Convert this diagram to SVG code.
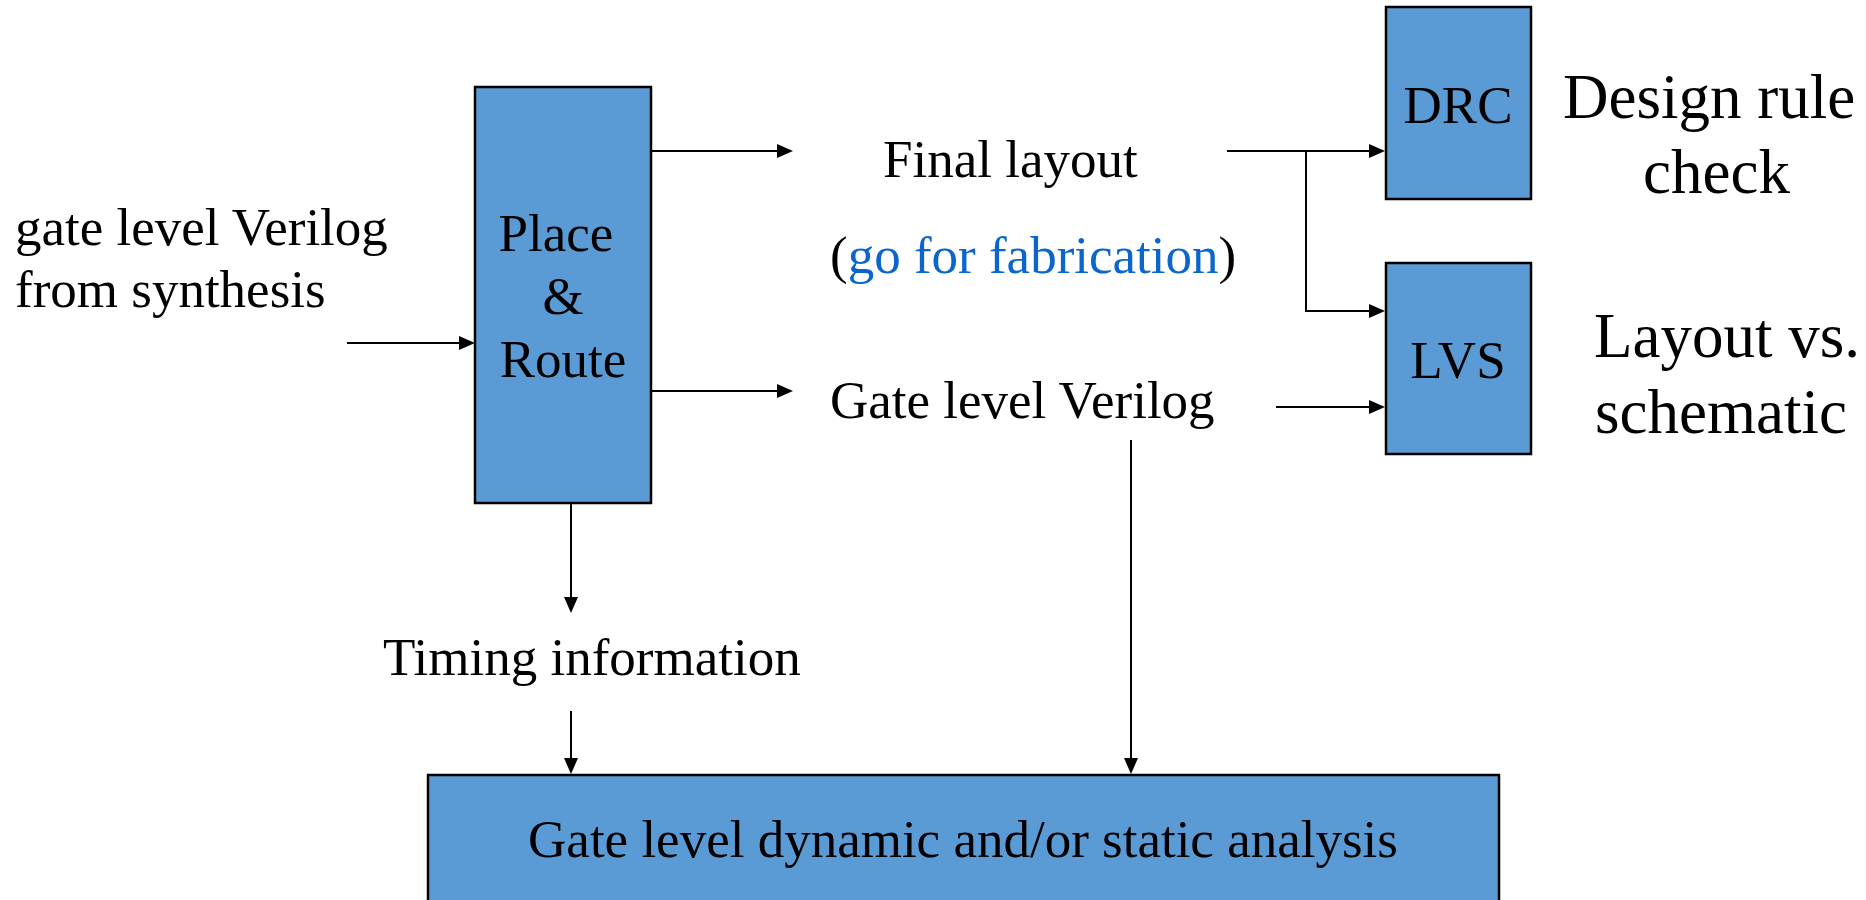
<svg xmlns="http://www.w3.org/2000/svg" width="1866" height="900" viewBox="0 0 1866 900">
<style>
.box{fill:#5B9BD5;stroke:#000;stroke-width:2.5}
.t{font-family:"Liberation Serif","Times New Roman",serif;font-size:53px;fill:#000}
.big{font-size:63px}
.mid{text-anchor:middle}
.blue{fill:#0A66CC}
.c{fill:none;stroke:#000;stroke-width:2}
</style>
<defs>
<marker id="ah" markerUnits="userSpaceOnUse" markerWidth="16" markerHeight="14" refX="8" refY="7" orient="auto">
<path d="M0,0 L16,7 L0,14 z" fill="#000"/>
</marker>
</defs>
<rect width="1866" height="900" fill="#fff"/>
<g id="connectors">
<line class="c" x1="347" y1="343" x2="467" y2="343" marker-end="url(#ah)"/>
<line class="c" x1="651" y1="151" x2="785" y2="151" marker-end="url(#ah)"/>
<line class="c" x1="651" y1="391" x2="785" y2="391" marker-end="url(#ah)"/>
<line class="c" x1="1227" y1="151" x2="1377" y2="151" marker-end="url(#ah)"/>
<path class="c" d="M1306,151 V311 H1377" marker-end="url(#ah)"/>
<line class="c" x1="1276" y1="407" x2="1377" y2="407" marker-end="url(#ah)"/>
<line class="c" x1="571" y1="503" x2="571" y2="605" marker-end="url(#ah)"/>
<line class="c" x1="571" y1="711" x2="571" y2="766" marker-end="url(#ah)"/>
<line class="c" x1="1131" y1="440" x2="1131" y2="766" marker-end="url(#ah)"/>
</g>
<g id="input-label">
<text class="t" x="15" y="245">gate level Verilog</text>
<text class="t" x="15" y="307">from synthesis</text>
</g>
<g id="place-route">
<rect class="box" x="475" y="87" width="176" height="416"/>
<text class="t mid" x="556" y="251">Place</text>
<text class="t mid" x="563" y="314">&amp;</text>
<text class="t mid" x="563" y="377">Route</text>
</g>
<g id="final-layout">
<text class="t" x="883" y="177">Final layout</text>
<text class="t" x="830" y="273">(<tspan class="blue">go for fabrication</tspan>)</text>
</g>
<g id="gate-verilog">
<text class="t" x="830" y="418">Gate level Verilog</text>
</g>
<g id="drc">
<rect class="box" x="1386" y="7" width="145" height="192"/>
<text class="t mid" x="1458" y="123">DRC</text>
</g>
<g id="lvs">
<rect class="box" x="1386" y="263" width="145" height="191"/>
<text class="t mid" x="1458" y="378">LVS</text>
</g>
<g id="drc-label">
<text class="t big" x="1563" y="118">Design rule</text>
<text class="t big" x="1643" y="193">check</text>
</g>
<g id="lvs-label">
<text class="t big" x="1594" y="357">Layout vs.</text>
<text class="t big" x="1595" y="433">schematic</text>
</g>
<g id="timing">
<text class="t" x="383" y="675">Timing information</text>
</g>
<g id="analysis">
<rect class="box" x="428" y="775" width="1071" height="140"/>
<text class="t mid" x="963" y="857">Gate level dynamic and/or static analysis</text>
</g>
</svg>
